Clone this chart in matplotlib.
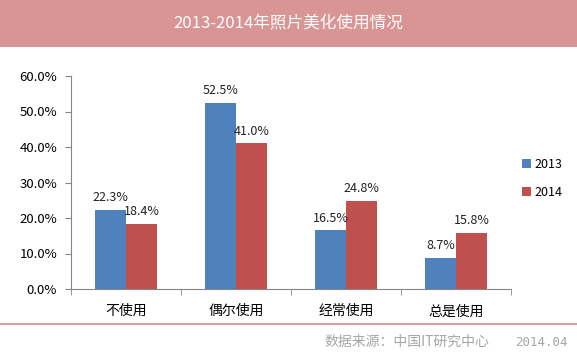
import numpy as np
import matplotlib
matplotlib.use("Agg")
import matplotlib.pyplot as plt
from matplotlib.patches import Rectangle

plt.rcParams['font.family'] = ['Noto Sans CJK SC', 'DejaVu Sans']

categories = ['不使用', '偶尔使用', '经常使用', '总是使用']
years = ['2013', '2014']
v2013 = [22.3, 52.5, 16.5, 8.7]
v2014 = [18.4, 41.0, 24.8, 15.8]
colors = ['#4F81BD', '#C0504D']

fig = plt.figure(figsize=(5.77, 3.56), dpi=100)

# title band
fig.patches.append(Rectangle((0, 1 - 47 / 356), 1, 47 / 356, transform=fig.transFigure,
                             facecolor='#D99594', edgecolor='none', zorder=0))
fig.text(0.5, 1 - 24 / 356, '2013-2014年照片美化使用情况', ha='center', va='center',
         color='white', fontsize=12)

ax = fig.add_axes([71 / 577, 67 / 356, 440 / 577, 213 / 356])
x = np.arange(len(categories))
w = 0.282
for i, (vals, yr) in enumerate(zip([v2013, v2014], years)):
    pos = x + (i - 0.5) * w
    ax.bar(pos, vals, w, color=colors[i], label=yr)
    for p, v in zip(pos, vals):
        ax.text(p, v + 1.6, '%.1f%%' % v, ha='center', va='bottom', fontsize=9,
                color='#222222')

ax.set_xlim(-0.5, 3.5)
ax.set_ylim(0, 60)
ax.set_yticks(np.arange(0, 61, 10))
ax.set_yticklabels(['%.1f%%' % t for t in np.arange(0, 61, 10)], fontsize=9.5)
ax.set_xticks(x)
ax.set_xticklabels(categories, fontsize=10)
ax.set_xticks(np.arange(-0.5, 3.6, 1), minor=True)
ax.tick_params(axis='x', which='major', length=0, pad=11)
ax.tick_params(axis='x', which='minor', length=4, color='#868686')
ax.tick_params(axis='y', length=4, color='#868686', pad=6)
for s in ['top', 'right']:
    ax.spines[s].set_visible(False)
for s in ['left', 'bottom']:
    ax.spines[s].set_color('#868686')

leg = ax.legend(loc='center left', bbox_to_anchor=(1.0, 0.52), frameon=False,
                fontsize=9, handlelength=0.7, handleheight=0.7, handletextpad=0.3,
                labelspacing=1.2)

# bottom rule and source
fig.add_artist(plt.Line2D([0, 1], [1 - 324 / 356] * 2, transform=fig.transFigure,
                          color='#D4A0A0', lw=1.5))
fig.text(489 / 577, 1 - 342 / 356, '数据来源：中国IT研究中心', ha='right',
         va='center', color='#A6A6A6', fontsize=10)
fig.text(568 / 577, 1 - 342 / 356, '2014.04', ha='right',
         va='center', color='#A6A6A6', fontsize=9, family='DejaVu Sans Mono')

fig.savefig('out.png', dpi=100)
